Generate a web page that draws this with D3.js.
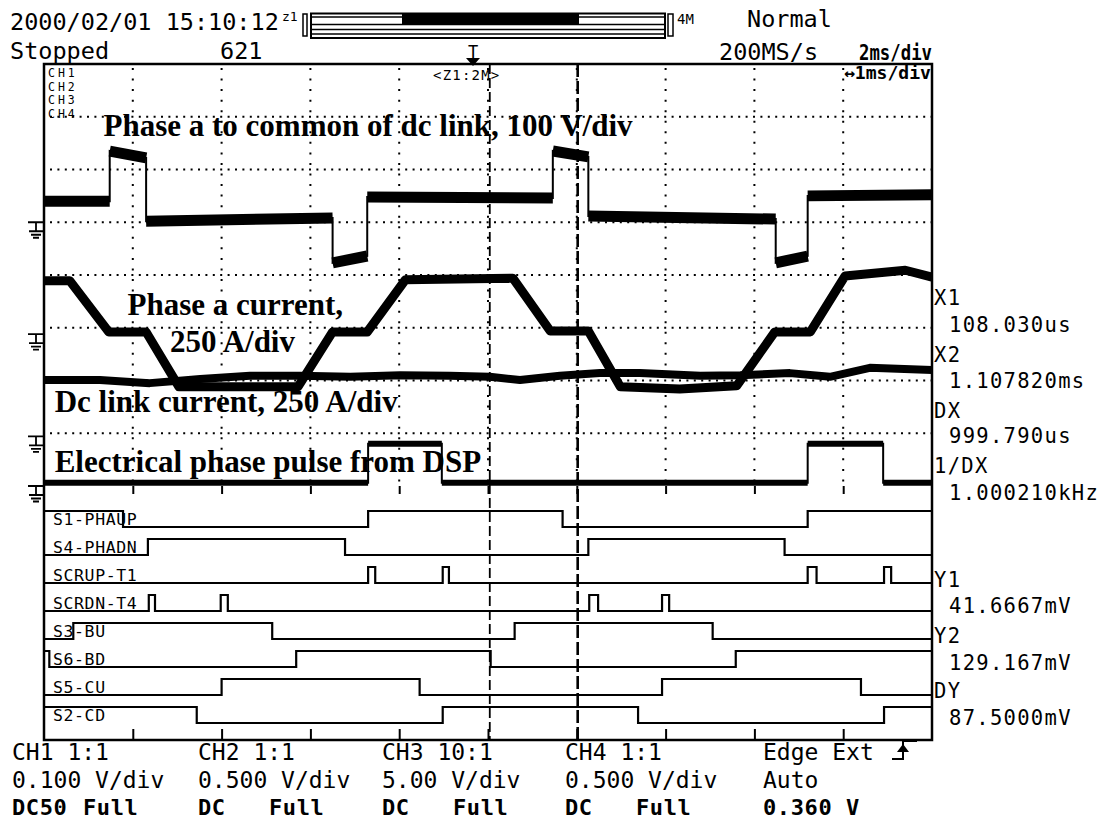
<!DOCTYPE html>
<html><head><meta charset="utf-8">
<script src="https://cdn.jsdelivr.net/npm/d3@7"></script>
<style>
body{margin:0;background:#fff}
svg{display:block}
text{font-family:"DejaVu Sans Mono",monospace;fill:#000}
.ann{font-family:"Liberation Serif","Times New Roman",serif;font-weight:bold;font-size:31px}
</style>
</head><body>
<svg id="c" width="1109" height="823"></svg>
<script>
// ---------------- DATA ----------------
// time in ms across the 10-division screen (1 ms/div), analog values in divisions from screen centre
const ch1Points = [[0,1.40],[0.74,1.40],[0.74,2.35],[1.15,2.22],[1.15,1.02],[3.25,1.08],[3.25,0.23],[3.64,0.36],[3.64,1.48],[5.73,1.46],[5.73,2.35],[6.13,2.24],[6.13,1.12],[8.24,1.06],[8.24,0.23],[8.60,0.36],[8.60,1.50],[10,1.52]];
const ch2Points = [[0,-0.11],[0.29,-0.11],[0.73,-1.08],[1.15,-1.08],[1.52,-2.12],[2.86,-2.12],[3.25,-1.08],[3.64,-1.08],[4.07,-0.09],[5.28,-0.06],[5.70,-1.06],[6.13,-1.06],[6.49,-2.12],[7.16,-2.16],[7.80,-2.10],[8.23,-1.08],[8.63,-1.08],[9.02,-0.02],[9.70,0.09],[10,-0.04]];
const ch3Points = [[0,-1.99],[0.63,-1.99],[1.19,-2.05],[1.76,-1.97],[2.32,-1.91],[2.88,-1.91],[3.45,-1.93],[4.01,-1.90],[4.57,-1.91],[5.02,-1.93],[5.36,-1.99],[5.81,-1.91],[6.26,-1.86],[6.71,-1.86],[7.39,-1.91],[7.84,-1.90],[8.40,-1.86],[8.85,-1.93],[9.30,-1.76],[10,-1.80]];
const ch4Points = [[0,-3.94],[3.65,-3.94],[3.65,-3.20],[4.48,-3.20],[4.48,-3.94],[8.60,-3.94],[8.60,-3.20],[9.45,-3.20],[9.45,-3.94],[10,-3.94]];
const groundDivs = [1.0, -1.12, -3.06, -4.0];
const channelNames = ["CH1","CH2","CH3","CH4"];

const digitalLabels = ["S1-PHAUP","S4-PHADN","SCRUP-T1","SCRDN-T4","S3-BU","S6-BD","S5-CU","S2-CD"];
const digitalStart = [1,0,0,0,0,1,0,1];
const digitalEdges = [
  [0.89,3.65,5.84,8.60],
  [1.17,3.39,6.13,8.34],
  [3.65,3.73,4.49,4.56,8.60,8.70,9.46,9.54],
  [1.18,1.25,1.99,2.07,6.14,6.24,6.96,7.04],
  [0.33,2.57,5.30,7.53],
  [0.06,2.84,5.03,7.79],
  [2.00,4.23,6.96,9.20],
  [1.72,4.49,6.69,9.46]
];
const cursorTimes = [5.02, 6.01];

const annotations = [
  ["Phase a to common of dc link, 100 V/div", 0.67, 2.63],
  ["Phase a current,", 0.94, -0.76],
  ["250 A/div", 1.42, -1.46],
  ["Dc link current, 250 A/div", 0.12, -2.60],
  ["Electrical phase pulse from DSP", 0.12, -3.74]
];

const headerTexts = [["2000/02/01 15:10:12",10,30],["Stopped",10,59],["621",220,59],["Normal",747,27],["200MS/s",719,60]];
const cursorLabels = [["X1",934,305],["X2",934,362],["DX",934,418],["1/DX",934,473],["Y1",934,587],["Y2",934,643],["DY",934,698]];
const cursorValues = [["108.030us",949,332],["1.107820ms",949,388],["999.790us",949,443],["1.000210kHz",949,500],["41.6667mV",949,613],["129.167mV",949,670],["87.5000mV",949,725]];
const footerCols = [12,198,382,565,763];
const footerLine1 = ["CH1 1:1","CH2 1:1","CH3 10:1","CH4 1:1","Edge Ext"];
const footerLine2 = ["0.100 V/div","0.500 V/div","5.00 V/div","0.500 V/div","Auto"];
const footerLine3 = [["DC50","Full"],["DC","Full"],["DC","Full"],["DC","Full"],["0.360 V",""]];

// ---------------- DRAW ----------------
const svg = d3.select("#c");
const L=44,R=932,T=64,B=740,AB=486;
const x = d3.scaleLinear().domain([0,10]).range([L,R]);
const y = d3.scaleLinear().domain([-4,4]).range([AB,T]);
const yD = d3.scalePoint().domain(digitalLabels).range([527,723]);
const hiOff = 16;

svg.append("rect").attr("width",1109).attr("height",823).attr("fill","#fff");

// grid (dotted) in analog area
const g = svg.append("g");
g.selectAll(".vg").data(d3.range(1,10)).join("line")
  .attr("x1",d=>x(d)).attr("x2",d=>x(d)).attr("y1",T+4).attr("y2",AB)
  .attr("stroke","#000").attr("stroke-width",2).attr("stroke-dasharray","2,8.55");
g.selectAll(".hg").data(d3.range(-3,4)).join("line")
  .attr("x1",L+6).attr("x2",R).attr("y1",d=>y(d)).attr("y2",d=>y(d))
  .attr("stroke","#000").attr("stroke-width",2).attr("stroke-dasharray","2,5.4");

// ticks: bottom frame and analog/logic boundary
const ab = svg.append("g").attr("transform",`translate(0,${B})`)
  .call(d3.axisTop(x).tickValues(d3.range(1,10)).tickFormat("").tickSize(11).tickSizeOuter(0));
ab.select(".domain").remove(); ab.selectAll("line").attr("stroke-width",2);
const mb = svg.append("g").attr("transform",`translate(0,${AB+8})`)
  .call(d3.axisTop(x).tickValues(d3.range(1,10)).tickFormat("").tickSize(8).tickSizeOuter(0));
mb.select(".domain").remove(); mb.selectAll("line").attr("stroke-width",2);

// cursors
svg.selectAll(".cur").data(cursorTimes).join("line")
  .attr("x1",d=>x(d)).attr("x2",d=>x(d)).attr("y1",T).attr("y2",B)
  .attr("stroke","#000").attr("stroke-width",(d,i)=>i?2.6:1.8)
  .attr("stroke-dasharray",(d,i)=>i?"13,4":"10,4");

// analog traces
const line = d3.line().x(d=>x(d[0])).y(d=>y(d[1]));
function drawTrace(pts, w){
  svg.append("path").attr("d",line(pts)).attr("fill","none").attr("stroke","#000").attr("stroke-width",2);
  let runs=[], cur=[pts[0]];
  for(let i=1;i<pts.length;i++){
    if(pts[i][0]!==pts[i-1][0]) cur.push(pts[i]);
    else { if(cur.length>1) runs.push(cur); cur=[pts[i]]; }
  }
  if(cur.length>1) runs.push(cur);
  runs.forEach(r=>svg.append("path").attr("d",line(r)).attr("fill","none").attr("stroke","#000")
    .attr("stroke-width",w).attr("stroke-linejoin","round").attr("stroke-linecap","butt"));
}
drawTrace(ch1Points,11);
drawTrace(ch2Points,9);
drawTrace(ch3Points,8);
drawTrace(ch4Points,6);

// digital traces
digitalLabels.forEach((lab,i)=>{
  const base=yD(lab), hi=base-hiOff;
  let s=digitalStart[i], pts=[[0,s]];
  digitalEdges[i].forEach(t=>{pts.push([t,s]); s=1-s; pts.push([t,s]);});
  pts.push([10,s]);
  svg.append("path").attr("d",d3.line().x(d=>x(d[0])).y(d=>d[1]?hi:base)(pts))
    .attr("fill","none").attr("stroke","#000").attr("stroke-width",2.2);
  svg.append("text").attr("x",53).attr("y",base-2).attr("font-size",16.5).attr("letter-spacing",0.6).text(lab);
});

// frame
svg.append("rect").attr("x",L).attr("y",T).attr("width",R-L).attr("height",B-T)
  .attr("fill","none").attr("stroke","#000").attr("stroke-width",2.5);

// ground markers
groundDivs.forEach(gd=>{
  const y0=y(gd);
  const p=d3.path();
  p.moveTo(28,y0);p.lineTo(L,y0);
  p.moveTo(36,y0);p.lineTo(36,y0+9);
  p.moveTo(29,y0+9);p.lineTo(43,y0+9);
  p.moveTo(31,y0+12.5);p.lineTo(41,y0+12.5);
  p.moveTo(33,y0+15.5);p.lineTo(39,y0+15.5);
  svg.append("path").attr("d",p.toString()).attr("stroke","#000").attr("stroke-width",1.8).attr("fill","none");
});

// channel names in frame corner
channelNames.forEach((n,i)=>svg.append("text").attr("x",48).attr("y",77+i*13.5).attr("font-size",11.5).attr("letter-spacing",3).text(n));
svg.append("text").attr("x",433).attr("y",80).attr("font-size",14).attr("letter-spacing",1.2).text("<Z1:2M>");
svg.append("text").attr("x",844).attr("y",79).attr("font-size",17).attr("font-weight","bold").attr("textLength",87).attr("lengthAdjust","spacingAndGlyphs").text("↔1ms/div");

// annotations
annotations.forEach(a=>svg.append("text").attr("class","ann").attr("x",x(a[1])).attr("y",y(a[2])).text(a[0]));

// header
headerTexts.forEach(h=>svg.append("text").attr("x",h[1]).attr("y",h[2]).attr("font-size",23.5).text(h[0]));
svg.append("text").attr("x",859).attr("y",60).attr("font-size",21).attr("font-weight","bold").attr("textLength",73).attr("lengthAdjust","spacingAndGlyphs").text("2ms/div");
svg.append("text").attr("x",282).attr("y",21).attr("font-size",13).text("z1");
svg.append("text").attr("x",677).attr("y",24).attr("font-size",14).text("4M");
svg.append("rect").attr("x",303).attr("y",14).attr("width",4).attr("height",22).attr("fill","none").attr("stroke","#000").attr("stroke-width",1.5);
svg.append("rect").attr("x",668).attr("y",14).attr("width",5).attr("height",22).attr("fill","none").attr("stroke","#000").attr("stroke-width",1.5);
svg.append("rect").attr("x",311).attr("y",13.5).attr("width",354).attr("height",24.5).attr("fill","none").attr("stroke","#000").attr("stroke-width",2);
svg.append("rect").attr("x",402).attr("y",14).attr("width",177).attr("height",10).attr("fill","#000");
[17,24.5,29.5,34].forEach(yy=>svg.append("line").attr("x1",311).attr("x2",665).attr("y1",yy).attr("y2",yy).attr("stroke","#000").attr("stroke-width",1.4));
// trigger marker
svg.append("text").attr("x",473).attr("y",58).attr("font-size",17).attr("text-anchor","middle").text("T");
svg.append("path").attr("d","M466,58L480,58L473,66Z").attr("fill","#000");

// right readouts
cursorLabels.forEach(c=>svg.append("text").attr("x",c[1]).attr("y",c[2]).attr("font-size",20.5).attr("letter-spacing",1.3).text(c[0]));
cursorValues.forEach(c=>svg.append("text").attr("x",c[1]).attr("y",c[2]).attr("font-size",20.5).attr("letter-spacing",1.3).text(c[0]));

// footer
footerCols.forEach((cx,i)=>{
  svg.append("text").attr("x",cx).attr("y",760).attr("font-size",23).text(footerLine1[i]);
  svg.append("text").attr("x",cx).attr("y",788).attr("font-size",23).text(footerLine2[i]);
  svg.append("text").attr("x",cx).attr("y",815).attr("font-size",22).attr("font-weight","bold").attr("letter-spacing",0.6).text(footerLine3[i][0]);
  if(footerLine3[i][1]) svg.append("text").attr("x",cx+71).attr("y",815).attr("font-size",22).attr("font-weight","bold").attr("letter-spacing",0.6).text(footerLine3[i][1]);
});
svg.append("path").attr("d","M892,759H903V741H917").attr("fill","none").attr("stroke","#000").attr("stroke-width",2);
svg.append("path").attr("d","M897,752L903,744L909,752Z").attr("fill","#000");
</script>
</body></html>
